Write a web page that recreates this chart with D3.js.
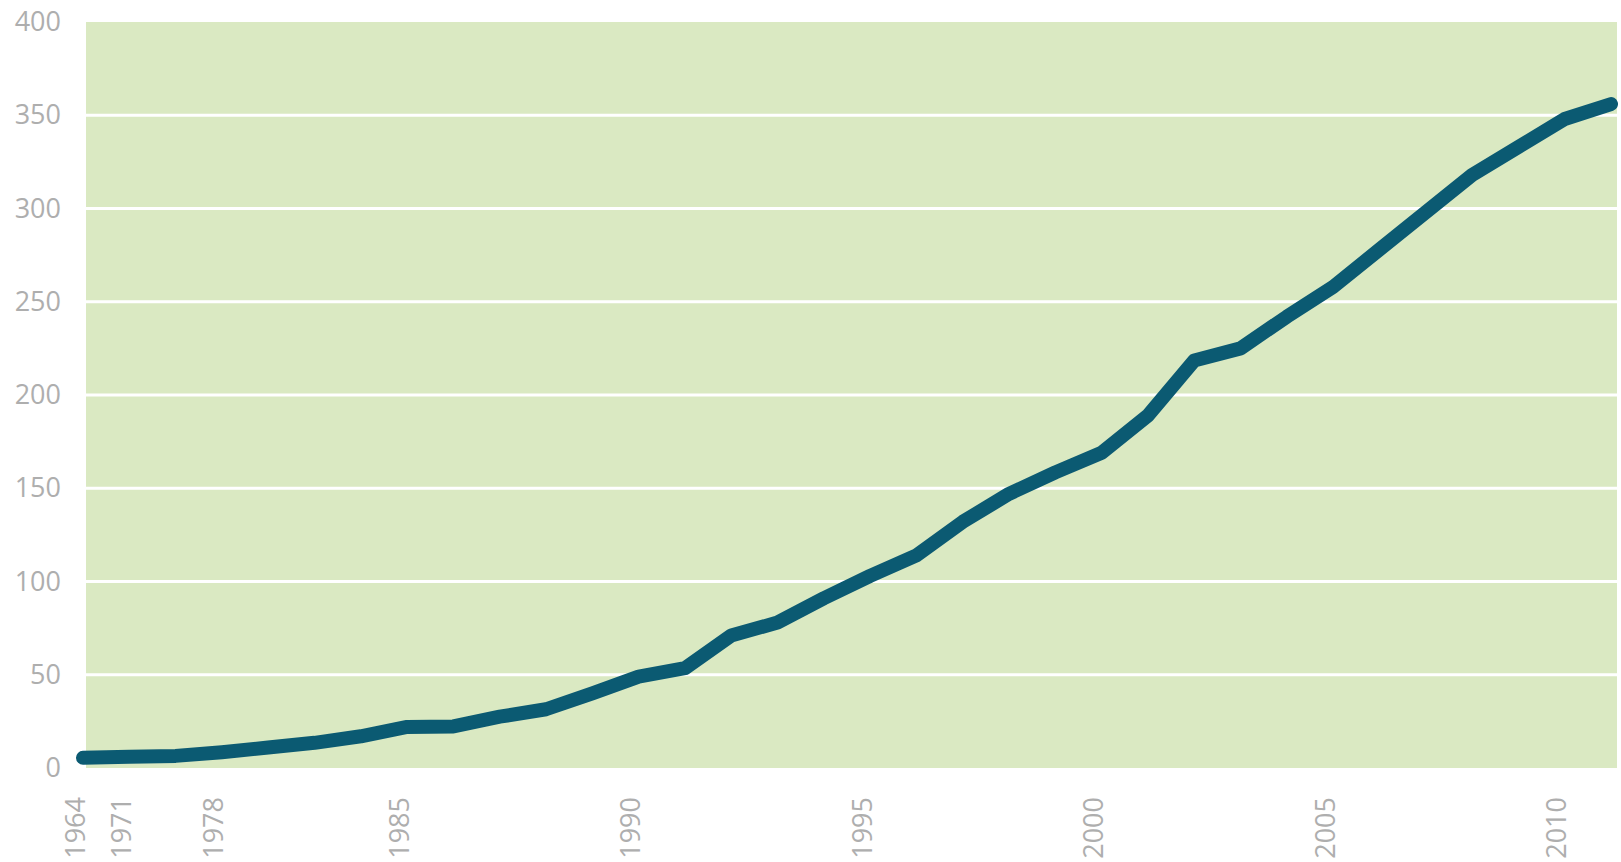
<!DOCTYPE html>
<html>
<head>
<meta charset="utf-8">
<script src="https://cdn.jsdelivr.net/npm/d3@7"></script>
<style>
  body { margin: 0; background: #fff; }
  text { font-family: "Open Sans", sans-serif; font-weight: 400; fill: #aeaeae; }
</style>
</head>
<body>
<div id="chart"></div>
<script>
var years = ["1964", "1971", "1975", "1978", "1980", "1982", "1984", "1985",
  "1986", "1987", "1988", "1989", "1990", "1991", "1992", "1993", "1994", "1995",
  "1996", "1997", "1998", "1999", "2000", "2001", "2002", "2003", "2004", "2005",
  "2006", "2007", "2008", "2009", "2010", "2011"];

var values = [5.5, 6, 6.5, 8.5, 11, 13.5, 17, 22,
  22.3, 27.5, 31.5, 40, 49, 53.5, 71, 78, 91, 103,
  114, 132, 147, 158.5, 169, 189, 218.5, 225, 242, 258,
  278, 298, 318, 333, 348, 356];

var xTickLabels = ["1964", "1971", "1978", "1985", "1990", "1995", "2000", "2005", "2010"];
var yTicks = [0, 50, 100, 150, 200, 250, 300, 350, 400];

var svgWidth = 1621;
var svgHeight = 862;

var plotLeft = 86, plotRight = 1617, plotTop = 22, plotBottom = 768;

var svg = d3.select("#chart")
  .append("svg")
  .attr("width", svgWidth)
  .attr("height", svgHeight);

var xScale = d3.scalePoint()
  .domain(years)
  .range([83, 1611]);

var yScale = d3.scaleLinear()
  .domain([0, 400])
  .range([plotBottom, plotTop]);

// green plot background
svg.append("rect")
  .attr("x", plotLeft)
  .attr("y", plotTop)
  .attr("width", plotRight - plotLeft)
  .attr("height", plotBottom - plotTop)
  .attr("fill", "#dae9c2");

// white gridlines
svg.selectAll("line.grid")
  .data(yTicks.filter(d => d > 0 && d < 400))
  .enter()
  .append("line")
  .attr("class", "grid")
  .attr("x1", plotLeft)
  .attr("x2", plotRight)
  .attr("y1", d => yScale(d))
  .attr("y2", d => yScale(d))
  .attr("stroke", "#fff")
  .attr("stroke-width", 3);

// y axis labels
var yAxis = d3.axisLeft(yScale).tickValues(yTicks).tickSize(0).tickPadding(0);
var yAxisG = svg.append("g")
  .attr("transform", "translate(61,0)")
  .call(yAxis);
yAxisG.select(".domain").remove();
yAxisG.selectAll("text")
  .attr("font-size", 27)
  .attr("font-family", null)
  .attr("fill", null);

// x axis labels, rotated
var xAxis = d3.axisBottom(xScale).tickValues(xTickLabels).tickSize(0).tickPadding(0);
var xAxisG = svg.append("g")
  .attr("transform", `translate(0, ${plotBottom})`)
  .call(xAxis);
xAxisG.select(".domain").remove();
xAxisG.selectAll("text")
  .attr("font-size", 27)
  .attr("font-family", null)
  .attr("fill", null)
  .attr("text-anchor", "end")
  .attr("dy", 0)
  .attr("y", 0)
  .attr("transform", "translate(1,29) rotate(-90)");

// the line
var line = d3.line()
  .x((d, i) => xScale(years[i]))
  .y(d => yScale(d));

svg.append("path")
  .datum(values)
  .attr("d", line)
  .attr("fill", "none")
  .attr("stroke", "#0b5a72")
  .attr("stroke-width", 14)
  .attr("stroke-linecap", "round")
  .attr("stroke-linejoin", "round");
</script>
</body>
</html>
